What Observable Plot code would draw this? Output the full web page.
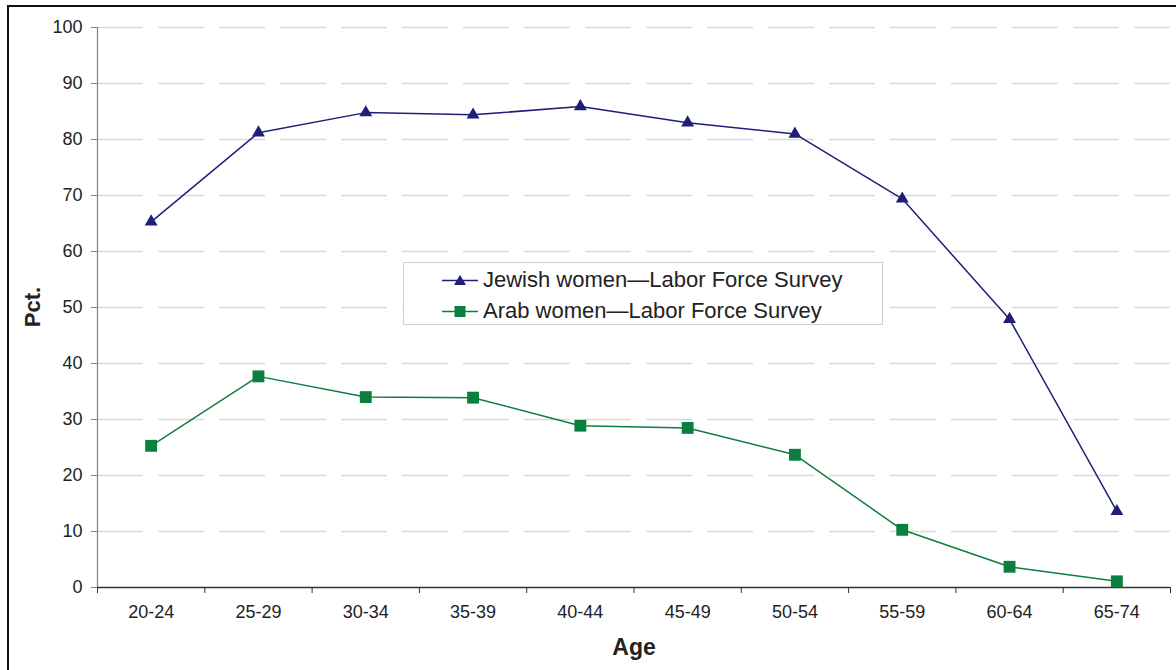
<!DOCTYPE html>
<html>
<head>
<meta charset="utf-8">
<script src="https://cdn.jsdelivr.net/npm/d3@7"></script>
<script src="https://cdn.jsdelivr.net/npm/@observablehq/plot@0.6"></script>
<style>
  html, body { margin: 0; padding: 0; background: #fff; }
  #wrap { position: relative; width: 1176px; height: 670px; overflow: hidden; font-family: "Liberation Sans", Arial, sans-serif; }
  #border { position: absolute; left: 7px; top: 5px; width: 1300px; height: 800px; border-left: 2.5px solid #111; border-top: 2.5px solid #111; box-sizing: border-box; pointer-events: none; }
  #legend { position: absolute; left: 403px; top: 262px; width: 480px; height: 63px; border: 1px solid #cfcfcf; box-sizing: border-box; background: #fff; }
  .row { position: absolute; left: 38px; height: 26px; display: flex; align-items: center; font-size: 22px; color: #222; white-space: nowrap; }
  .row svg { margin-right: 5px; }
  .ylab { position: absolute; left: 33px; top: 307px; transform: translate(-50%, -50%) rotate(-90deg); font-weight: bold; font-size: 22px; color: #222; }
  .xlab { position: absolute; left: 634px; top: 647px; transform: translate(-50%, -50%); font-weight: bold; font-size: 23px; color: #222; }
</style>
</head>
<body>
<div id="wrap">
  <div id="chart"></div>
  <div id="legend"></div>
  <div class="ylab">Pct.</div>
  <div class="xlab">Age</div>
  <div id="border"></div>
</div>
<script>
const ages = ["20-24","25-29","30-34","35-39","40-44","45-49","50-54","55-59","60-64","65-74"];
const jewish = [65.3, 81.2, 84.8, 84.4, 85.9, 83.0, 81.0, 69.4, 47.9, 13.6];
const arab = [25.3, 37.7, 34.0, 33.9, 28.9, 28.5, 23.7, 10.3, 3.7, 1.1];
const yTicks = [0,10,20,30,40,50,60,70,80,90,100];
const seriesNames = ["Jewish women\u2014Labor Force Survey", "Arab women\u2014Labor Force Survey"];
const colors = ["#1f1f78", "#0b7f3e"];
const symbols = ["triangle", "square"];

const rows = [];
ages.forEach((a, i) => {
  rows.push({i, age: a, v: jewish[i], s: seriesNames[0]});
  rows.push({i, age: a, v: arab[i], s: seriesNames[1]});
});
const idx = ages.map((_, i) => i);
const bounds = d3.range(ages.length + 1).map(i => i - 0.5);

const chart = Plot.plot({
  width: 1176,
  height: 670,
  marginLeft: 97,
  marginRight: 6,
  marginTop: 27,
  marginBottom: 83,
  style: { fontFamily: "Liberation Sans, Arial, sans-serif", fontSize: "18px", color: "#222", background: "transparent" },
  x: { type: "linear", domain: [-0.5, ages.length - 0.5], axis: null },
  y: { domain: [0, 100], axis: null },
  color: { domain: seriesNames, range: colors },
  symbol: { domain: seriesNames, range: symbols },
  marks: [
    Plot.gridY(yTicks.filter(v => v > 0), { stroke: "#d9d9d9", strokeOpacity: 1, strokeWidth: 1.5, strokeDasharray: "46,15" }),
    Plot.ruleX([-0.5], { y1: 0, y2: 100, stroke: "#808080", strokeWidth: 1.2 }),
    Plot.axisY(yTicks, { tickSize: 6, tickPadding: 9, stroke: "#808080", fill: "#222", fontSize: 18, label: null }),
    Plot.ruleY([0], { stroke: "#333", strokeWidth: 1.5 }),
    Plot.axisX(bounds, { tickSize: 6, tickFormat: () => "", stroke: "#333", label: null }),
    Plot.axisX(idx, { tickSize: 0, tickPadding: 18, tickFormat: i => ages[i], fill: "#222", fontSize: 18, label: null }),
    Plot.line(rows, { x: "i", y: "v", z: "s", stroke: "s", strokeWidth: 1.5 }),
    Plot.dot(rows.filter(d => d.s === seriesNames[0]), { x: "i", y: "v", symbol: "s", fill: "s", stroke: null, r: 4.8 }),
    Plot.dot(rows.filter(d => d.s === seriesNames[1]), { x: "i", y: "v", symbol: "s", fill: "s", stroke: null, r: 6.7 })
  ]
});
document.getElementById("chart").appendChild(chart);

const legend = document.getElementById("legend");
seriesNames.forEach((name, k) => {
  const row = document.createElement("div");
  row.className = "row";
  row.style.top = (k === 0 ? 4 : 35) + "px";
  const sym = k === 0
    ? `<path d="M18,7 L24,17 L12,17 Z" fill="${colors[k]}"/>`
    : `<rect x="12.5" y="7" width="11" height="11" fill="${colors[k]}"/>`;
  row.innerHTML = `<svg width="36" height="24" viewBox="0 0 36 24"><line x1="0" y1="12.5" x2="36" y2="12.5" stroke="${colors[k]}" stroke-width="1.5"/>${sym}</svg><span>${name}</span>`;
  legend.appendChild(row);
});
</script>
</body>
</html>
